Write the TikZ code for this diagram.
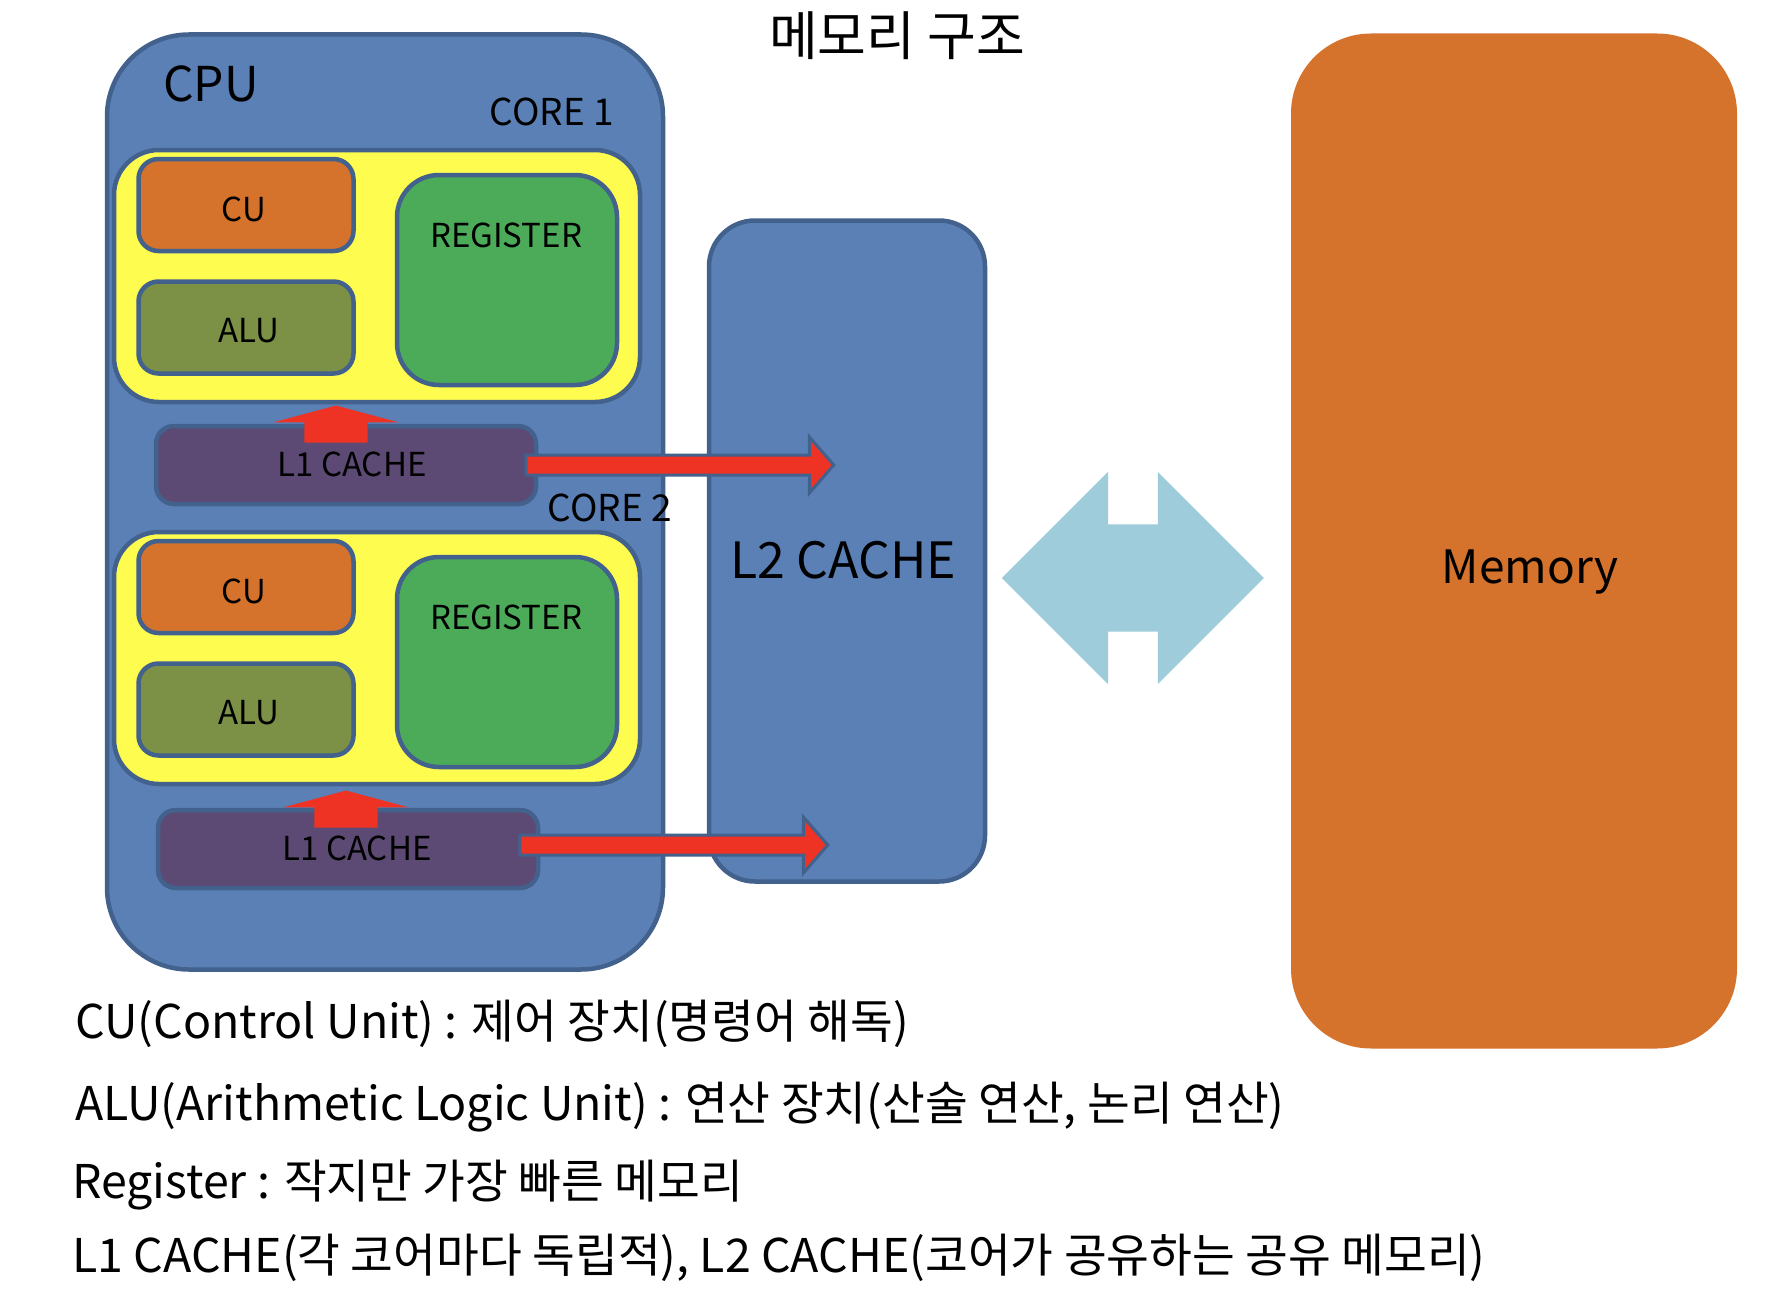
\documentclass[tikz,border=0pt]{standalone}
\usepackage{fontspec}
\setmainfont{Noto Sans CJK KR}
\usepackage{tikz}
\usetikzlibrary{shapes.arrows, positioning, calc}

\definecolor{edgeblue}{HTML}{42618C}
\definecolor{cpublue}{HTML}{5A80B6}
\definecolor{coreyellow}{HTML}{FFFC50}
\definecolor{cuorange}{HTML}{D5732D}
\definecolor{aluolive}{HTML}{7C9046}
\definecolor{reggreen}{HTML}{4CAB58}
\definecolor{cachepurple}{HTML}{5D4A74}
\definecolor{arrowred}{HTML}{EE3324}
\definecolor{busblue}{HTML}{9FCCDB}

\begin{document}
\begin{tikzpicture}[
        x=1pt, y=-1pt,
        box/.style={rectangle, draw=edgeblue, line width=4.5pt, inner sep=0pt},
        cpubox/.style={box, fill=cpublue, rounded corners=82pt, minimum width=556pt, minimum height=935pt},
        corebox/.style={box, fill=coreyellow, rounded corners=45pt, minimum width=526pt, minimum height=252pt},
        cubox/.style={box, fill=cuorange, rounded corners=20pt, minimum width=215pt, minimum height=92pt},
        alubox/.style={box, fill=aluolive, rounded corners=20pt, minimum width=215pt, minimum height=92pt},
        regbox/.style={box, fill=reggreen, rounded corners=42pt, minimum width=220pt, minimum height=210pt},
        l1box/.style={box, fill=cachepurple, rounded corners=18pt, minimum width=380pt, minimum height=78pt},
        l2box/.style={box, fill=cpublue, rounded corners=46pt, minimum width=276pt, minimum height=661pt},
        membox/.style={rectangle, fill=cuorange, rounded corners=80pt, minimum width=446pt, minimum height=1015pt},
        lbl/.style={anchor=base, inner sep=0pt, font=\fontsize{33}{40}\selectfont},
        legend/.style={anchor=base west, inner sep=0pt, font=\fontsize{46.5}{54}\selectfont},
        uparrow/.style={single arrow, fill=arrowred, inner xsep=0pt, inner ysep=31.5pt, rotate=90, anchor=tail,
            minimum height=37pt, single arrow head extend=31.5pt, single arrow tip angle=150},
        rightarrow/.style={single arrow, draw=edgeblue, line width=3pt, fill=arrowred, inner xsep=0pt, inner ysep=8.5pt, anchor=tail,
            minimum height=308pt, single arrow head extend=18pt, single arrow tip angle=98},
        busarrow/.style={double arrow, fill=busblue, inner xsep=0pt, inner ysep=53.5pt,
            minimum height=262pt, double arrow head extend=52.5pt, double arrow tip angle=90}
    ]

    \fill[white] (0,0) rectangle (1792,1314);
    \useasboundingbox (0,0) rectangle (1792,1314);

    \node (title) at (897,36) {\fontsize{53}{60}\selectfont 메모리 구조};

    % CPU with two cores
    \node (cpu) [cpubox] at (385,502) {};
    \node (cputxt) [lbl, anchor=base west, font=\fontsize{48}{56}\selectfont] at (163,102) {CPU};

    \node (core1txt) [lbl, anchor=base east, font=\fontsize{37}{44}\selectfont] at (614,125) {CORE 1};
    \node (core1) [corebox] at (377,276) {};
    \node (cu1) [cubox] at (246,205) {};
    \node (alu1) [alubox, below=26pt of cu1] {};
    \node (reg1) [regbox] at (507,280) {};
    \node (l1a) [l1box] at (346,465) {};
    \node [lbl] at (244,221) {CU};
    \node [lbl] at (249,342) {ALU};
    \node [lbl] at (506,247) {REGISTER};
    \node [lbl] at (352,476) {L1 CACHE};

    \node (core2txt) [lbl, anchor=base east, font=\fontsize{37}{44}\selectfont] at (672,521) {CORE 2};
    \node (core2) [corebox] at (377,658) {};
    \node (cu2) [cubox] at (246,587) {};
    \node (alu2) [alubox, below=26pt of cu2] {};
    \node (reg2) [regbox] at (507,662) {};
    \node (l1b) [l1box] at (348,849) {};
    \node [lbl] at (244,603) {CU};
    \node [lbl] at (249,724) {ALU};
    \node [lbl] at (506,629) {REGISTER};
    \node [lbl] at (357,860) {L1 CACHE};

    % shared cache and memory
    \node (l2) [l2box] at (847,551) {};
    \node (l2txt) [lbl, font=\fontsize{50}{58}\selectfont] at (843,578) {L2 CACHE};
    \node (mem) [membox] at (1514,541) {};
    \node (memtxt) [lbl, font=\fontsize{46}{54}\selectfont] at (1530,583) {Memory};

    % arrows
    \node (up1) [uparrow] at ([xshift=-10pt,yshift=-19pt]l1a.north) {};
    \node (up2) [uparrow] at ([xshift=-2pt,yshift=-20pt]l1b.north) {};
    \node (go1) [rightarrow] at ([xshift=-14pt]l1a.east) {};
    \node (go2) [rightarrow] at ([xshift=-22pt,yshift=4pt]l1b.east) {};
    \coordinate (busmid) at ($(l2.east)!0.48!(mem.west)$);
    \node (bus) [busarrow] at (busmid |- l2txt.base) {};

    % legend
    \node (leg1) [legend] at (75,1038) {CU(Control Unit) : 제어 장치(명령어 해독)};
    \node (leg2) [legend] at (75,1120) {ALU(Arithmetic Logic Unit) : 연산 장치(산술 연산, 논리 연산)};
    \node (leg3) [legend] at (72,1198) {Register : 작지만 가장 빠른 메모리};
    \node (leg4) [legend] at (72,1272) {L1 CACHE(각 코어마다 독립적), L2 CACHE(코어가 공유하는 공유 메모리)};

\end{tikzpicture}
\end{document}
